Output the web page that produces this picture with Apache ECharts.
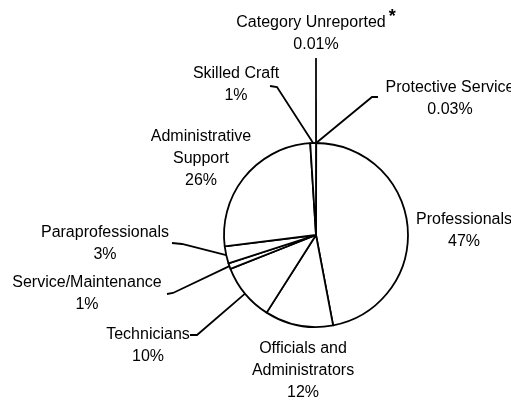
<!DOCTYPE html>
<html>
<head>
<meta charset="utf-8">
<script src="https://cdn.jsdelivr.net/npm/echarts@6/dist/echarts.min.js"></script>
<style>
  html, body { margin: 0; padding: 0; background: #fff; }
  #chart { width: 511px; height: 401px; }
</style>
</head>
<body>
<div id="chart"></div>
<script>
// clockwise from 12 o'clock
const categories = [
  'Category Unreported',
  'Protective Service',
  'Professionals',
  'Officials and\nAdministrators',
  'Technicians',
  'Service/Maintenance',
  'Paraprofessionals',
  'Administrative\nSupport',
  'Skilled Craft'
]
const percents = [0.01, 0.03, 47, 12, 10, 1, 3, 26, 1]
const footnoted = ['Category Unreported']

// label placement (block centre) and leader elbow/end, per slice
const labelPos = [
  { x: 316, y: 34, line: [[316, 58], [316, 58]] },
  { x: 450, y: 99, line: [[372, 97], [378, 97]] },
  { x: 464, y: 231 },
  { x: 303, y: 371 },
  { x: 148, y: 346, line: [[197, 335], [190, 335]] },
  { x: 87, y: 294, line: [[173, 293], [167, 294]] },
  { x: 105, y: 244, line: [[182, 244], [172, 243]] },
  { x: 201, y: 159 },
  { x: 236, y: 85, line: [[277, 87], [270, 86]] }
]

const chart = echarts.init(document.getElementById('chart'))

const data = categories.map((name, i) => ({
  name,
  value: percents[i],
  labelLine: { show: !!labelPos[i].line }
}))

chart.setOption({
  animation: false,
  series: [
    {
      type: 'pie',
      center: [316, 235],
      radius: 92,
      startAngle: 90,
      clockwise: true,
      avoidLabelOverlap: false,
      itemStyle: { color: '#fff', borderColor: '#000', borderWidth: 1.8 },
      emphasis: { disabled: true },
      label: {
        show: true,
        position: 'outside',
        color: '#000',
        fontFamily: 'Liberation Sans, Arial, sans-serif',
        fontSize: 16,
        lineHeight: 22,
        align: 'center',
        formatter: (p) => {
          const mark = footnoted.includes(p.name) ? '{sup|*}' : ''
          return p.name + mark + '\n' + p.value + '%'
        },
        rich: {
          sup: { fontSize: 18, fontWeight: 'bold', padding: [0, 0, 12, 3], color: '#000' }
        }
      },
      labelLine: {
        show: true,
        lineStyle: { color: '#000', width: 1.8 }
      },
      labelLayout: (params) => {
        const pos = labelPos[params.dataIndex]
        const out = { x: pos.x, y: pos.y, align: 'center', verticalAlign: 'middle' }
        if (pos.line && params.labelLinePoints) {
          out.labelLinePoints = [params.labelLinePoints[0], pos.line[0], pos.line[1]]
        }
        return out
      },
      data
    }
  ]
})
</script>
</body>
</html>
